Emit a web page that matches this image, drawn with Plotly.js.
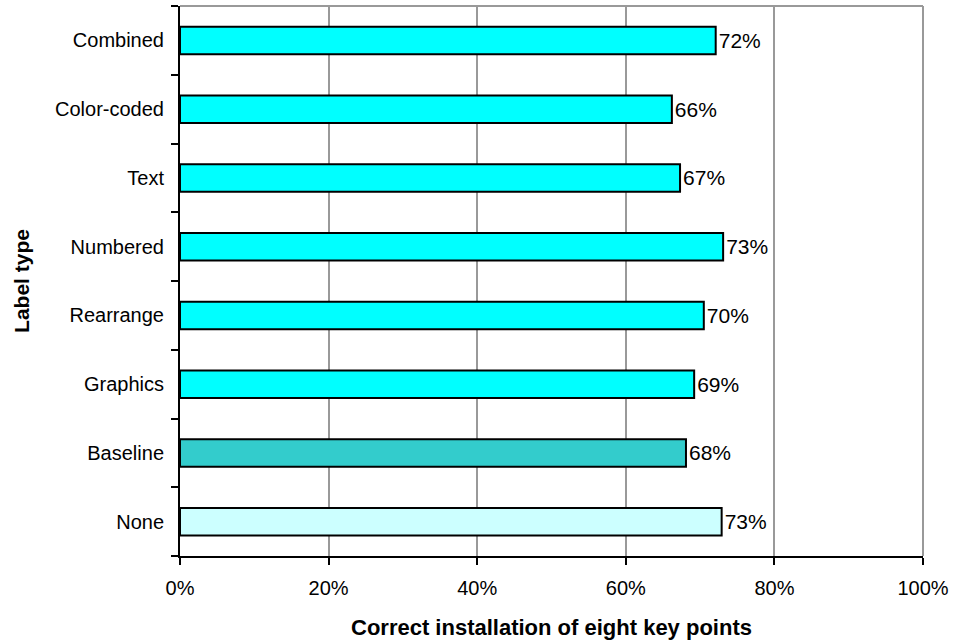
<!DOCTYPE html>
<html>
<head>
<meta charset="utf-8">
<script src="https://cdn.plot.ly/plotly-3.0.1.min.js"></script>
<style>html,body{margin:0;padding:0;background:#fff;}#chart{width:953px;height:644px;}</style>
</head>
<body>
<div id="chart"></div>
<script>
// categories listed bottom to top
const categories = ["None", "Baseline", "Graphics", "Rearrange", "Numbered", "Text", "Color-coded", "Combined"];
const values = [0.729, 0.681, 0.692, 0.705, 0.731, 0.673, 0.662, 0.721];
const valueLabels = ["73%", "68%", "69%", "70%", "73%", "67%", "66%", "72%"];
const barColors = ["#CCFFFF", "#33CCCC", "#00FFFF", "#00FFFF", "#00FFFF", "#00FFFF", "#00FFFF", "#00FFFF"];
const xTickVals = [0, 0.2, 0.4, 0.6, 0.8, 1.0];

const font = "Liberation Sans, Arial, sans-serif";

const trace = {
  type: "bar",
  orientation: "h",
  y: categories,
  x: values,
  text: valueLabels,
  textposition: "outside",
  cliponaxis: false,
  textfont: {family: font, size: 21, color: "#000"},
  marker: {color: barColors, line: {color: "#000", width: 2}},
  hoverinfo: "none"
};

const layout = {
  width: 953, height: 644,
  margin: {l: 180, r: 30, t: 6, b: 88},
  paper_bgcolor: "#fff", plot_bgcolor: "#fff",
  showlegend: false,
  bargap: 0.6,
  font: {family: font, size: 20, color: "#000"},
  xaxis: {
    range: [0, 1],
    tickvals: xTickVals,
    tickformat: ".0%",
    showgrid: true, gridcolor: "#999", gridwidth: 2,
    zeroline: false,
    showline: true, linecolor: "#000", linewidth: 2,
    ticks: "outside", ticklen: 7, tickwidth: 2, tickcolor: "#000",
    ticklabelstandoff: 6,
    tickfont: {family: font, size: 20},
    title: {text: "Correct installation of eight key points", font: {family: font, size: 22, weight: "bold"}, standoff: 22}
  },
  yaxis: {
    type: "category",
    categoryorder: "array", categoryarray: categories,
    showgrid: false, zeroline: false,
    showline: true, linecolor: "#000", linewidth: 2,
    ticks: "outside", tickson: "boundaries", ticklen: 7, tickwidth: 2, tickcolor: "#000",
    ticklabelstandoff: 10,
    tickfont: {family: font, size: 20},
    title: {text: "Label type", font: {family: font, size: 21, weight: "bold"}, standoff: 20}
  },
  shapes: [
    {type: "line", xref: "paper", yref: "paper", x0: 0, x1: 1, y0: 1, y1: 1, line: {color: "#999", width: 2}},
    {type: "line", xref: "paper", yref: "paper", x0: 1, x1: 1, y0: 0, y1: 1, line: {color: "#999", width: 2}}
  ]
};

Plotly.newPlot("chart", [trace], layout, {displayModeBar: false, staticPlot: true});
</script>
</body>
</html>
